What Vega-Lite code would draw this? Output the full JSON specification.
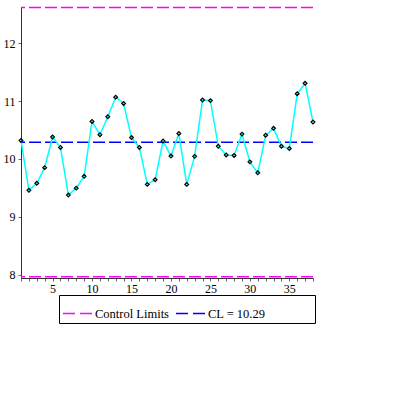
{
  "$schema": "https://vega.github.io/schema/vega-lite/v6.json",
  "width": 292,
  "height": 271,
  "autosize": {"type": "none"},
  "padding": {"left": 21, "top": 7, "right": 82, "bottom": 117},
  "background": "white",
  "config": {
    "view": {"stroke": null}
  },
  "datasets": {
    "pts": [
      {"i": 1, "v": 10.32}, {"i": 2, "v": 9.46}, {"i": 3, "v": 9.58}, {"i": 4, "v": 9.85},
      {"i": 5, "v": 10.38}, {"i": 6, "v": 10.2}, {"i": 7, "v": 9.375}, {"i": 8, "v": 9.495},
      {"i": 9, "v": 9.7}, {"i": 10, "v": 10.65}, {"i": 11, "v": 10.42}, {"i": 12, "v": 10.73},
      {"i": 13, "v": 11.07}, {"i": 14, "v": 10.96}, {"i": 15, "v": 10.37}, {"i": 16, "v": 10.2},
      {"i": 17, "v": 9.56}, {"i": 18, "v": 9.64}, {"i": 19, "v": 10.31}, {"i": 20, "v": 10.05},
      {"i": 21, "v": 10.44}, {"i": 22, "v": 9.56}, {"i": 23, "v": 10.045}, {"i": 24, "v": 11.02},
      {"i": 25, "v": 11.01}, {"i": 26, "v": 10.22}, {"i": 27, "v": 10.07}, {"i": 28, "v": 10.06},
      {"i": 29, "v": 10.43}, {"i": 30, "v": 9.95}, {"i": 31, "v": 9.76}, {"i": 32, "v": 10.41},
      {"i": 33, "v": 10.53}, {"i": 34, "v": 10.22}, {"i": 35, "v": 10.18}, {"i": 36, "v": 11.13},
      {"i": 37, "v": 11.31}, {"i": 38, "v": 10.64}
    ],
    "limits": [
      {"y": 12.62, "s": "Control Limits"},
      {"y": 7.96, "s": "Control Limits"},
      {"y": 10.29, "s": "CL = 10.29"}
    ]
  },
  "layer": [
    {
      "data": {"name": "limits"},
      "mark": {"type": "rule", "strokeWidth": 1.5, "strokeDash": [12, 4]},
      "encoding": {
        "y": {"field": "y", "type": "quantitative", "scale": {"domain": [7.94, 12.63], "nice": false, "zero": false},
              "axis": {"values": [8, 9, 10, 11, 12], "format": "d", "tickSize": 3, "labelPadding": 3, "domainColor": "#333", "tickColor": "#666",
                       "labelFont": "Liberation Serif", "labelFontSize": 12, "labelColor": "black", "grid": false, "title": null}},
        "color": {"field": "s", "type": "nominal",
                  "scale": {"domain": ["Control Limits", "CL = 10.29"], "range": ["#FF00FF", "#0000FF"]},
                  "legend": {"title": "\u00a0", "titleOrient": "right", "titleFontSize": 12, "titlePadding": 47, "orient": "none", "legendX": 38, "legendY": 288, "direction": "horizontal",
                             "symbolType": "stroke", "symbolSize": 841, "symbolStrokeWidth": 1.5, "symbolDash": [12, 5],
                             "strokeColor": "black", "padding": 3, "columnPadding": 4, "labelOffset": 2, "fillColor": "white",
                             "labelColor": "black", "labelFont": "Liberation Serif", "labelFontSize": 12.5, "labelLimit": 300}}
      }
    },
    {
      "data": {"name": "pts"},
      "encoding": {
        "x": {"field": "i", "type": "quantitative", "scale": {"domain": [1, 38], "nice": false, "zero": false},
              "axis": {"values": [1,2,3,4,5,6,7,8,9,10,11,12,13,14,15,16,17,18,19,20,21,22,23,24,25,26,27,28,29,30,31,32,33,34,35,36,37,38],
                       "labelExpr": "indexof([5,10,15,20,25,30,35], datum.value) >= 0 ? datum.label : ''",
                       "tickSize": 3, "labelPadding": 2, "labelFlush": false, "labelOverlap": false, "labelBound": false,
                       "domainColor": "#333", "tickColor": "#666", "labelFont": "Liberation Serif", "labelFontSize": 12,
                       "labelColor": "black", "grid": false, "title": null}},
        "y": {"field": "v", "type": "quantitative"}
      },
      "layer": [
        {"mark": {"type": "line", "color": "#00FFFF", "strokeWidth": 1.5}},
        {"mark": {"type": "point", "shape": "diamond", "filled": false, "stroke": "black", "strokeWidth": 1.2, "size": 14, "opacity": 1}}
      ]
    }
  ]
}
